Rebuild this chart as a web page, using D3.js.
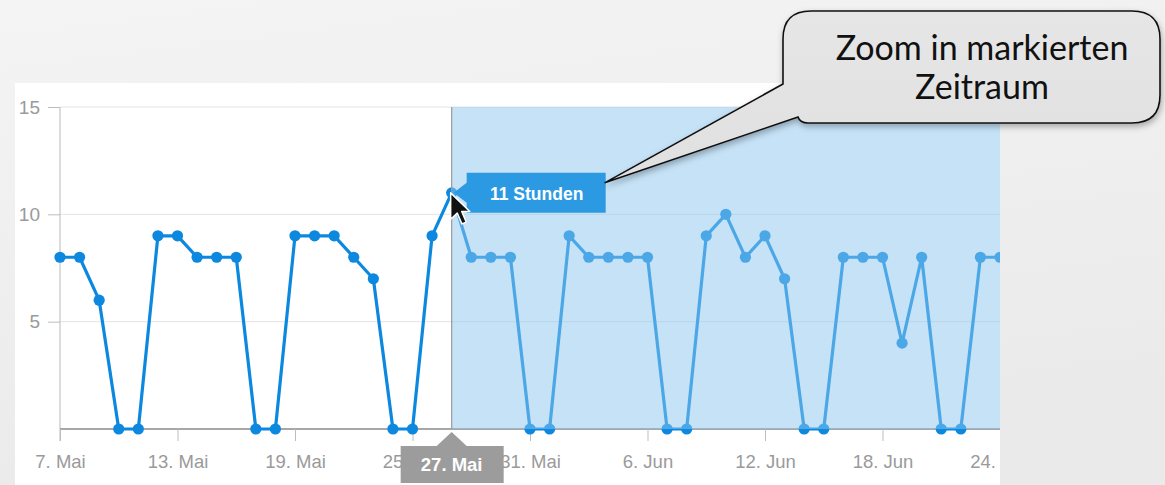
<!DOCTYPE html>
<html><head><meta charset="utf-8">
<script src="https://cdn.jsdelivr.net/npm/d3@7"></script>
<style>
html,body{margin:0;padding:0;background:#f1f1f1;}
svg{display:block;}
</style></head>
<body>
<svg id="c" width="1165" height="485"></svg>
<script>
const dates = ["2013-05-07","2013-05-08","2013-05-09","2013-05-10","2013-05-11","2013-05-12","2013-05-13","2013-05-14","2013-05-15","2013-05-16",
"2013-05-17","2013-05-18","2013-05-19","2013-05-20","2013-05-21","2013-05-22","2013-05-23","2013-05-24","2013-05-25","2013-05-26",
"2013-05-27","2013-05-28","2013-05-29","2013-05-30","2013-05-31","2013-06-01","2013-06-02","2013-06-03","2013-06-04","2013-06-05",
"2013-06-06","2013-06-07","2013-06-08","2013-06-09","2013-06-10","2013-06-11","2013-06-12","2013-06-13","2013-06-14","2013-06-15",
"2013-06-16","2013-06-17","2013-06-18","2013-06-19","2013-06-20","2013-06-21","2013-06-22","2013-06-23","2013-06-24"];
const hours = [8,8,6,0,0,9,9,8,8,8,0,0,9,9,9,8,7,0,0,9,11,8,8,8,0,0,9,8,8,8,8,0,0,9,10,8,9,7,0,0,8,8,8,4,8,0,0,8,8];
const xTickDates = ["2013-05-07","2013-05-13","2013-05-19","2013-05-25","2013-05-31","2013-06-06","2013-06-12","2013-06-18","2013-06-24"];
const xTickLabels = ["7. Mai","13. Mai","19. Mai","25. Mai","31. Mai","6. Jun","12. Jun","18. Jun","24. Jun"];
const yTicks = [5,10,15];
const selectionStart = "2013-05-27";
const selectionEnd = "2013-06-24";
const hoverDate = "2013-05-27";
const hoverLabel = "27. Mai";
const calloutLines = ["Zoom in markierten","Zeitraum"];

const parse = d3.utcParse("%Y-%m-%d");
const data = dates.map((d,i)=>({date:parse(d), v:hours[i]}));

const svg = d3.select("#c");
const defs = svg.append("defs");
const bg = defs.append("linearGradient").attr("id","bg").attr("x1",0).attr("y1",0).attr("x2",0.3).attr("y2",1);
bg.append("stop").attr("offset","0%").attr("stop-color","#f4f4f4");
bg.append("stop").attr("offset","100%").attr("stop-color","#eaeaea");
const bub = defs.append("linearGradient").attr("id","bub").attr("x1",0).attr("y1",0).attr("x2",0).attr("y2",1);
bub.append("stop").attr("offset","0%").attr("stop-color","#e6e6e6");
bub.append("stop").attr("offset","100%").attr("stop-color","#e0e0e0");
const f = defs.append("filter").attr("id","sh").attr("x","-10%").attr("y","-10%").attr("width","130%").attr("height","140%");
f.append("feDropShadow").attr("dx",1).attr("dy",3).attr("stdDeviation",3).attr("flood-color","#000").attr("flood-opacity",0.3);
defs.append("clipPath").attr("id","panelClip").append("rect").attr("x",15).attr("y",83).attr("width",985).attr("height",402);

svg.append("rect").attr("width",1165).attr("height",485).attr("fill","url(#bg)");

const g = svg.append("g").attr("clip-path","url(#panelClip)");
g.append("rect").attr("x",15).attr("y",83).attr("width",985).attr("height",402).attr("fill","#fff");

const x = d3.scaleUtc().domain([parse(dates[0]), parse(dates[dates.length-1])]).range([60,1000]);
const y = d3.scaleLinear().domain([0,15]).range([429,107]);

// grid
g.append("g").selectAll("line").data(yTicks).join("line")
  .attr("x1",60).attr("x2",1000).attr("y1",d=>y(d)).attr("y2",d=>y(d))
  .attr("stroke","#e4e4e4").attr("stroke-width",1);

// y axis
const ya = g.append("g").attr("transform","translate(60,0)")
  .call(d3.axisLeft(y).tickValues(yTicks).tickSize(12).tickPadding(8));
ya.select(".domain").attr("stroke","#b8b8b8").attr("d","M0,107V441");
ya.selectAll(".tick line").attr("stroke","#bdbdbd");
ya.selectAll(".tick text").attr("fill","#9a9a9a").style("font-family","'Liberation Sans',Arial,sans-serif").style("font-size","19px");

// x axis
const xa = g.append("g").attr("transform","translate(0,429)")
  .call(d3.axisBottom(x).tickValues(xTickDates.map(parse)).tickFormat((d,i)=>xTickLabels[i]).tickSize(12).tickPadding(14));
xa.select(".domain").attr("stroke","#8a8a8a").attr("stroke-width",1.3).attr("d","M60,0H1000");
xa.selectAll(".tick line").attr("stroke","#bdbdbd");
xa.selectAll(".tick text").attr("fill","#9a9a9a").style("font-family","'Liberation Sans',Arial,sans-serif").style("font-size","18.5px");

// line
const line = d3.line().x(d=>x(d.date)).y(d=>y(d.v));
g.append("path").datum(data).attr("d",line).attr("fill","none").attr("stroke","#0c88df").attr("stroke-width",3.2).attr("stroke-linejoin","round");
g.append("g").selectAll("circle").data(data).join("circle")
  .attr("cx",d=>x(d.date)).attr("cy",d=>y(d.v)).attr("r",5.6).attr("fill","#0c88df");

// selection overlay
const sx0 = x(parse(selectionStart)), sx1 = x(parse(selectionEnd));
g.append("rect").attr("x",sx0).attr("y",y(15)).attr("width",sx1-sx0).attr("height",y(0)-y(15))
  .attr("fill","rgb(139,197,239)").attr("fill-opacity",0.5);
g.append("line").attr("x1",sx0).attr("x2",sx0).attr("y1",y(15)).attr("y2",y(0)).attr("stroke","#9a9a9a").attr("stroke-width",1.2);

// hover badge on x axis (covers part of neighbouring labels, as in the reference)
const hx = x(parse(hoverDate));
const badge = g.append("g");
badge.append("path").attr("d",`M${hx},432 L${hx+15},446 L${hx-15},446 Z`).attr("fill","#9c9c9c");
badge.append("rect").attr("x",hx-51).attr("y",446).attr("width",103).attr("height",37).attr("fill","#9c9c9c");
badge.append("text").attr("x",hx).attr("y",471).attr("text-anchor","middle").attr("fill","#fff")
  .style("font-family","'Liberation Sans',Arial,sans-serif").style("font-size","18.5px").style("font-weight","bold").text(hoverLabel);

// tooltip
const hv = hours[dates.indexOf(hoverDate)];
const hy = y(hv);
const tip = svg.append("g");
tip.append("path").attr("d",`M${hx+15},${hy-20} H${hx+154} V${hy+20} H${hx+15} V${hy+10} L${hx+2},${hy} L${hx+15},${hy-10} Z`).attr("fill","#2c9ae3");
tip.append("text").attr("x",hx+85).attr("y",hy+7).attr("text-anchor","middle").attr("fill","#fff")
  .style("font-family","'Liberation Sans',Arial,sans-serif").style("font-size","17.5px").style("font-weight","bold").text(hv+" Stunden");

// cursor
svg.append("path").attr("transform",`translate(${hx-1},${hy}) scale(1.65)`)
  .attr("d","M0,0 L0,16 L4,12.3 L6.8,18.8 L9.4,17.7 L6.7,11.3 L11.6,11.3 Z")
  .attr("fill","#111").attr("stroke","#fff").attr("stroke-width",0.9).attr("stroke-linejoin","round");

// callout bubble
const tipX = hx+153, tipY = hy-10;
svg.append("path")
  .attr("d",`M811,11 H1132 Q1160,11 1160,39 V95 Q1160,123 1132,123 H808 Q800,123 798,117 L${tipX},${tipY} L783,84 V39 Q783,11 811,11 Z`)
  .attr("fill","url(#bub)").attr("stroke","#111").attr("stroke-width",1.6).attr("filter","url(#sh)");
svg.append("g").selectAll("text").data(calloutLines).join("text")
  .attr("x",982).attr("y",(d,i)=>60+i*39).attr("text-anchor","middle").attr("fill","#111")
  .style("font-family","Lato,'Open Sans',sans-serif").style("font-size","34px").text(d=>d);
</script>
</body></html>
